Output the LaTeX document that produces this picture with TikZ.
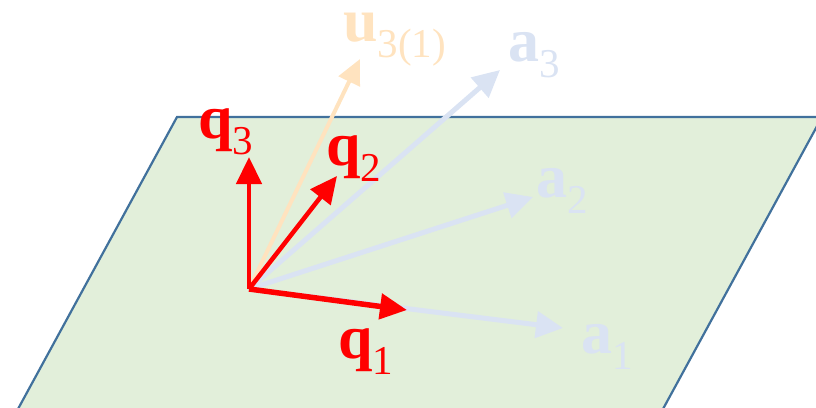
\documentclass[tikz,border=0pt]{standalone}
\usepackage{fontspec}
\setmainfont{Liberation Serif}
\usetikzlibrary{arrows.meta}
\definecolor{planefill}{HTML}{E2EFDA}
\definecolor{planeedge}{HTML}{41719C}
\definecolor{abl}{HTML}{DAE3F3}
\definecolor{uor}{HTML}{FFE3BF}
\definecolor{qred}{HTML}{FF0000}
\newcommand{\vlab}[2]{\textbf{#1}\raisebox{-16pt}{\fontsize{41}{41}\selectfont\mdseries #2}}
\begin{document}
\begin{tikzpicture}[x=1pt,y=-1pt,
  plane/.style={fill=planefill,draw=planeedge,line width=2.2pt,line join=miter},
  avec/.style={draw=abl,line width=5pt,-{Triangle[length=27pt,width=26pt]}},
  uvec/.style={draw=uor,line width=4pt,-{Triangle[length=25pt,width=23pt]}},
  qvec/.style={draw=qred,line width=4.5pt,-{Triangle[length=27pt,width=25pt]}},
  lab/.style={anchor=base west,inner sep=0pt,font=\fontsize{62}{62}\selectfont}]
\useasboundingbox (0,0) rectangle (816,407);
\begin{scope}
\clip (0,0) rectangle (816,407);
\draw[plane] (177,117) -- (822,117) -- (657,420) -- (12,420) -- cycle;
\end{scope}
\coordinate (O) at (249,289);
\coordinate (ta1) at (563,328);
\coordinate (ta2) at (533,197);
\coordinate (ta3) at (500,70);
\coordinate (tu) at (360,59);
\coordinate (tq1) at (407,310);
\coordinate (tq2) at (337,176);
\coordinate (tq3) at (249,157);
\draw[avec] (O) -- (ta1);
\draw[avec] (O) -- (ta2);
\draw[avec] (O) -- (ta3);
\draw[uvec] (O) -- (tu);
\draw[qvec,line width=5.5pt] (O) -- (tq1);
\draw[qvec] (O) -- (tq2);
\draw[qvec] (O) -- (tq3);
\node[lab,text=qred] (lq3) at (198,138) {\vlab{q}{3}};
\node[lab,text=qred] (lq2) at (326,165) {\vlab{q}{2}};
\node[lab,text=qred] (lq1) at (338,358) {\vlab{q}{1}};
\node[lab,text=abl] (la1) at (581,353) {\vlab{a}{1}};
\node[lab,text=abl] (la2) at (536,197) {\vlab{a}{2}};
\node[lab,text=abl] (la3) at (508,61) {\vlab{a}{3}};
\node[lab,text=uor] (lu) at (343,41) {\vlab{u}{\smash{3(1)}}};
\end{tikzpicture}
\end{document}
